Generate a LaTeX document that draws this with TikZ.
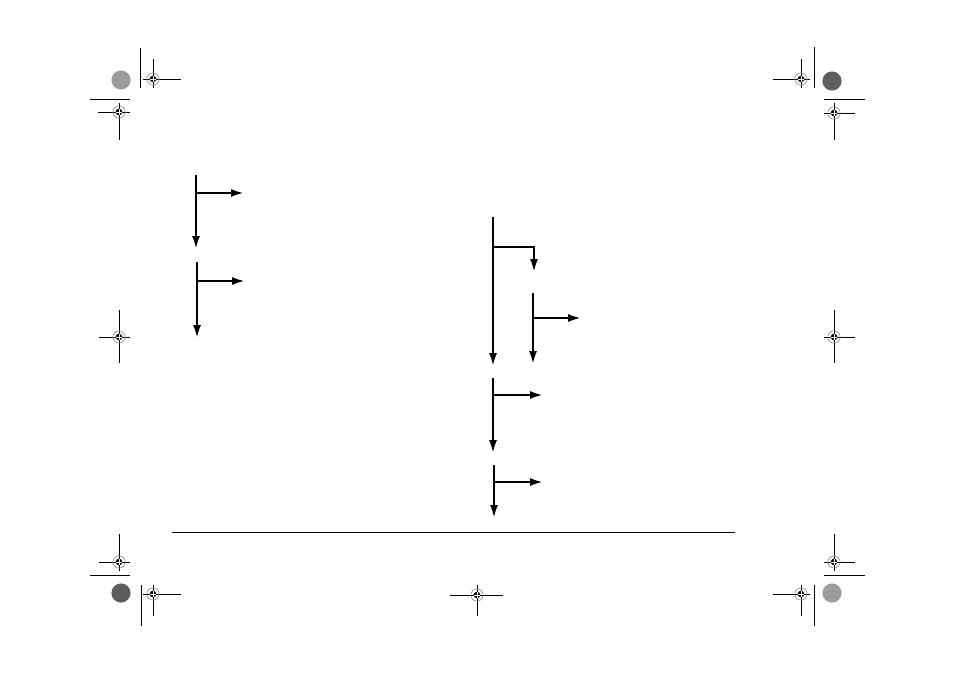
\documentclass[tikz,border=0pt]{standalone}
\usetikzlibrary{arrows.meta}
\definecolor{ink}{HTML}{000000}
\definecolor{ringgray}{HTML}{8A8A8A}
\definecolor{disclight}{HTML}{9C9C9C}
\definecolor{discdark}{HTML}{5E5E5E}
\tikzset{
  flow/.style={draw=ink, line width=0.8pt, -{Latex[length=9pt,width=6pt]}},
  stem/.style={draw=ink, line width=0.8pt},
  crop/.style={draw=ink, line width=0.7pt},
  ring/.style={draw=ringgray, line width=0.45pt},
  pics/target/.style={code={
    \draw[ring] (0,0) circle (4.6pt);
    \fill[ink] (0,0) circle (2.5pt);
    \draw[white, line width=0.35pt] (-2.5pt,0) -- (2.5pt,0) (0,-2.5pt) -- (0,2.5pt);
  }},
}

\begin{document}
\begin{tikzpicture}[x=0.75pt, y=-0.75pt]
  \useasboundingbox (0,0) rectangle (954,674);

  % crop lines
  \draw[crop] (140,48) -- (140,88);
  \draw[crop] (90,99) -- (130,99);
  \draw[crop] (814,47) -- (814,88);
  \draw[crop] (824,99) -- (865,99);
  \draw[crop] (90,575) -- (130,575);
  \draw[crop] (141,585) -- (141,626);
  \draw[crop] (824,575) -- (865,575);
  \draw[crop] (814,585) -- (814,626);

  % targets
  \foreach \cx/\cy/\xa/\xb/\ya/\yb in {
      153/79/143/181/59/88, 119/112/98/130/103/140,
      801/79/773/810/59/88, 834/113/824/855/103/140,
      119/562/99/130/534/571, 153/594/143/181/585/616,
      834/562/824/855/534/571, 801/594/773/810/585/616,
      477/595/450/503/585/616,
      119/337/99/130/310/363, 834/337/824/855/310/363}{
    \draw[crop] (\xa,\cy) -- (\xb,\cy) (\cx,\ya) -- (\cx,\yb);
    \pic at (\cx,\cy) {target};
  }

  % grey discs
  \fill[disclight] (121,80) circle (7.2pt);
  \fill[discdark] (832,81) circle (7.2pt);
  \fill[discdark] (121,593) circle (7.2pt);
  \fill[disclight] (832,593) circle (7.2pt);

  % footer rule
  \draw[crop] (172,532) -- (735,532);

  % left flow
  \coordinate (a1top) at (196,175);
  \coordinate (a1mid) at (196,193);
  \coordinate (a1end) at (196,248);
  \coordinate (a1out) at (243,193);
  \draw[flow] (a1top) -- (a1end);
  \draw[flow] (a1mid) -- (a1out);

  \coordinate (a2top) at (197,262);
  \coordinate (a2mid) at (197,281);
  \coordinate (a2end) at (197,337);
  \coordinate (a2out) at (244,281);
  \draw[flow] (a2top) -- (a2end);
  \draw[flow] (a2mid) -- (a2out);

  % right flow
  \coordinate (b1top) at (493,217);
  \coordinate (b1mid) at (493,247);
  \coordinate (b1end) at (493,365);
  \coordinate (b1sub) at (534,271);
  \draw[flow] (b1top) -- (b1end);
  \draw[flow] (b1mid) -| (b1sub);

  \coordinate (c1top) at (533,293);
  \coordinate (c1mid) at (533,318);
  \coordinate (c1end) at (533,363);
  \coordinate (c1out) at (580,318);
  \draw[flow] (c1top) -- (c1end);
  \draw[flow] (c1mid) -- (c1out);

  \coordinate (b2top) at (493,378);
  \coordinate (b2mid) at (493,395);
  \coordinate (b2end) at (493,452);
  \coordinate (b2out) at (542,395);
  \draw[flow] (b2top) -- (b2end);
  \draw[flow] (b2mid) -- (b2out);

  \coordinate (b3top) at (494,465);
  \coordinate (b3mid) at (494,482);
  \coordinate (b3end) at (494,517);
  \coordinate (b3out) at (542,482);
  \draw[flow] (b3top) -- (b3end);
  \draw[flow] (b3mid) -- (b3out);
\end{tikzpicture}
\end{document}
